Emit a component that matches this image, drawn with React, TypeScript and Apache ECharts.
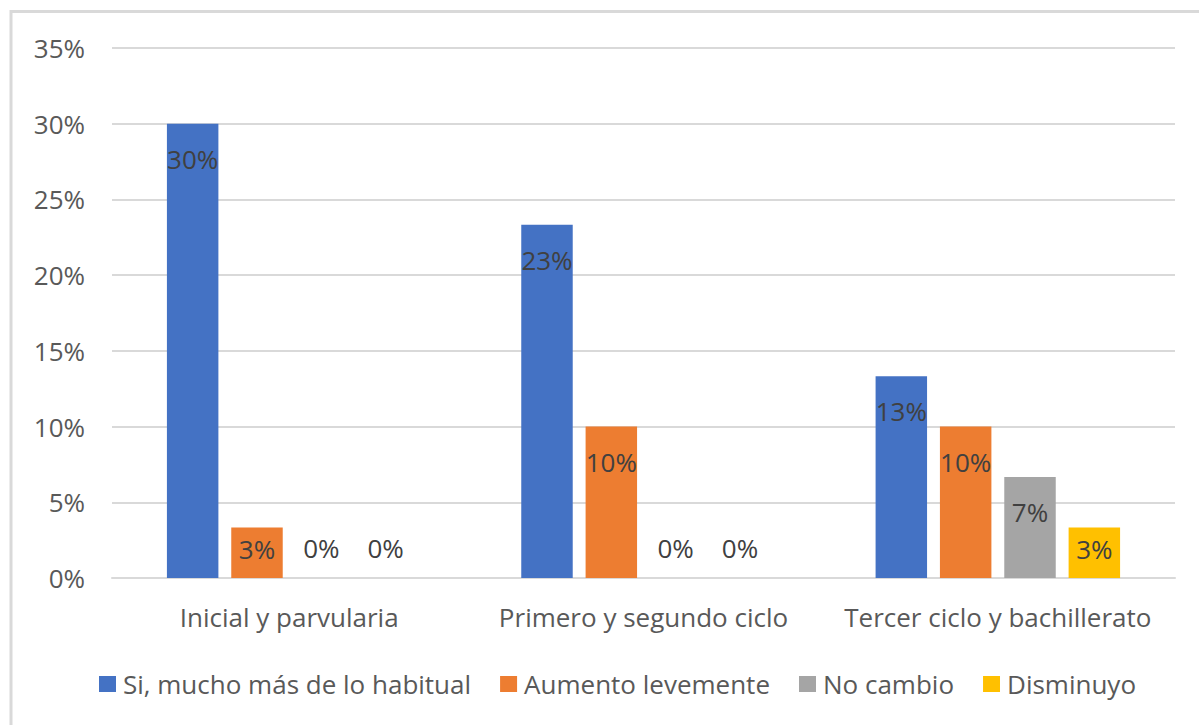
import React, { useEffect, useRef } from "react";
import * as echarts from "echarts";

const categories = ["Inicial y parvularia", "Primero y segundo ciclo", "Tercer ciclo y bachillerato"];
const seriesNames = ["Si, mucho más de lo habitual", "Aumento levemente", "No cambio", "Disminuyo"];
const siMucho = [30, 23.33, 13.33];
const aumento = [3.33, 10, 10];
const noCambio = [0, 0, 6.67];
const disminuyo = [0, 0, 3.33];
const colors = ["#4472C4", "#ED7D31", "#A5A5A5", "#FFC000"];
const yTicks = [0, 5, 10, 15, 20, 25, 30, 35];

const FONT = "Open Sans";
const FS = 26;

function labelFor(v: number) {
  if (v === 0) {
    return { show: true, position: "top", distance: 17 };
  }
  if (v < 5) {
    return { show: true, position: "insideTop", distance: 8 };
  }
  return { show: true, position: "insideTop", distance: 22 };
}

export default function App() {
  const ref = useRef<HTMLDivElement>(null);
  useEffect(() => {
    if (!ref.current) return;
    const chart = echarts.init(ref.current, null, { renderer: "svg" });
    const all = [siMucho, aumento, noCambio, disminuyo];
    chart.setOption({
      animation: false,
      backgroundColor: "#ffffff",
      graphic: [
        {
          type: "rect",
          shape: { x: 11, y: 11.5, width: 1400, height: 900 },
          style: { fill: "none", stroke: "#D9D9D9", lineWidth: 3 },
          silent: true,
        },
      ],
      grid: { left: 112, right: 24, top: 48, bottom: 147 },
      legend: {
        bottom: 23,
        left: 94,
        itemWidth: 17,
        itemHeight: 16,
        itemGap: 29,
        icon: "rect",
        textStyle: { fontFamily: FONT, fontSize: FS, color: "#595959", padding: [0, 0, 0, 2] },
        data: seriesNames,
      },
      xAxis: {
        type: "category",
        data: categories,
        axisLine: { show: true, lineStyle: { color: "#D9D9D9", width: 2 } },
        axisTick: { show: false },
        axisLabel: {
          interval: 0,
          hideOverlap: false,
          fontFamily: FONT,
          fontSize: FS,
          color: "#595959",
          margin: 26,
        },
      },
      yAxis: {
        type: "value",
        min: 0,
        max: 35,
        interval: 5,
        axisLine: { show: false },
        axisTick: { show: false },
        splitLine: { lineStyle: { color: "#D9D9D9", width: 2 } },
        axisLabel: {
          fontFamily: FONT,
          fontSize: FS,
          color: "#595959",
          margin: 27,
          formatter: (v: number) => (yTicks.includes(v) ? `${v}%` : ""),
        },
      },
      series: all.map((arr, i) => ({
        name: seriesNames[i],
        type: "bar",
        barGap: "25%",
        barCategoryGap: "31%",
        itemStyle: { color: colors[i] },
        label: {
          fontFamily: FONT,
          fontSize: FS,
          color: "#404040",
          formatter: (p: any) => `${Math.round(p.value)}%`,
        },
        data: arr.map((v) => ({ value: v, label: labelFor(v) })),
      })),
    });
    return () => chart.dispose();
  }, []);
  return (
    <div
      ref={ref}
      style={{ position: "fixed", left: 0, top: 0, width: 1199, height: 725, background: "#fff" }}
    />
  );
}
